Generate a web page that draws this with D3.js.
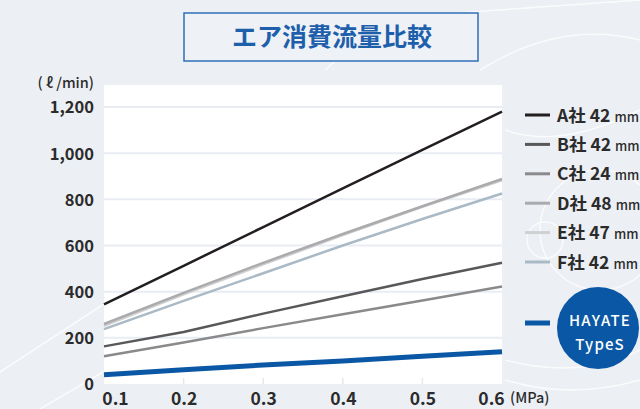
<!DOCTYPE html>
<html>
<head>
<meta charset="utf-8">
<script src="https://cdn.jsdelivr.net/npm/d3@7"></script>
<style>
  body { margin: 0; background: #eceff4; }
  svg { display: block; }
  text { font-family: "Noto Sans CJK JP", "Noto Sans", sans-serif; }
</style>
</head>
<body>
<div id="chart"></div>
<script>
// pressure (MPa) on the x axis
var pressures = [0.1, 0.2, 0.3, 0.4, 0.5, 0.6];

// air consumption (l/min)
var seriesA = [345, 512, 680, 847, 1014, 1180];
var seriesB = [163, 225, 305, 380, 455, 525];
var seriesC = [120, 180, 242, 302, 362, 422];
var seriesD = [260, 395, 525, 650, 770, 888];
var seriesE = [252, 388, 518, 645, 768, 882];
var seriesF = [238, 360, 480, 600, 715, 825];
var seriesHayate = [40, 62, 82, 100, 120, 140];

var legendNames = ["A社", "B社", "C社", "D社", "E社", "F社"];
var legendSizes = ["42", "42", "24", "48", "47", "42"];
var lineColors = ["#231f20", "#58585a", "#8a8a8c", "#ababad", "#cfd0d2", "#a9bac6"];

var yTicks = [0, 200, 400, 600, 800, 1000, 1200];
var xTicks = [0.1, 0.2, 0.3, 0.4, 0.5, 0.6];

var width = 640, height = 409;

var svg = d3.select('#chart').append('svg')
    .attr('width', width)
    .attr('height', height);

// faint decoration in the background
var deco = svg.append('g').attr('fill', 'none').attr('stroke', '#ffffff').attr('stroke-width', 1.5).attr('opacity', 0.8);
deco.append('path').attr('d', 'M0,372 L110,300');
deco.append('path').attr('d', 'M40,409 L110,368');
deco.append('path').attr('d', 'M325,70 L385,18 L640,0');
deco.append('path').attr('d', 'M480,70 Q560,20 640,40');
deco.append('circle').attr('cx', 600).attr('cy', 230).attr('r', 60);
deco.append('circle').attr('cx', 545).attr('cy', 240).attr('r', 18);
deco.append('path').attr('d', 'M505,130 Q560,150 640,110');
deco.append('path').attr('d', 'M505,380 Q570,400 640,380');
deco.append('path').attr('d', 'M505,360 Q580,380 640,350');

// title
svg.append('rect')
    .attr('x', 184).attr('y', 13).attr('width', 294).attr('height', 48)
    .attr('fill', '#eef1f6').attr('stroke', '#2f6fb6').attr('stroke-width', 1.5);
svg.append('text')
    .attr('x', 332).attr('y', 46)
    .attr('text-anchor', 'middle')
    .attr('font-size', 25).attr('font-weight', 700)
    .attr('fill', '#1d5fab')
    .text('エア消費流量比較');

var x = d3.scaleLinear().domain([0.1, 0.6]).range([104, 502]);
var y = d3.scaleLinear().domain([0, 1200]).range([384, 107]);

// plot background
svg.append('rect')
    .attr('x', x(0.1)).attr('y', 85)
    .attr('width', x(0.6) - x(0.1)).attr('height', y(0) - 85)
    .attr('fill', '#ffffff');

// grid
svg.append('g').selectAll('line')
    .data(yTicks.filter(function(d) { return d > 0; }))
    .enter().append('line')
    .attr('x1', x(0.1)).attr('x2', x(0.6))
    .attr('y1', function(d) { return y(d); })
    .attr('y2', function(d) { return y(d); })
    .attr('stroke', '#e9edf3').attr('stroke-width', 2);

// small ticks at the bottom
svg.append('g').selectAll('line')
    .data(xTicks.slice(1, 5))
    .enter().append('line')
    .attr('x1', function(d) { return x(d); })
    .attr('x2', function(d) { return x(d); })
    .attr('y1', y(0) - 6).attr('y2', y(0))
    .attr('stroke', '#e3e7ee').attr('stroke-width', 1.5);

// y axis
var yAxis = d3.axisLeft(y).tickValues(yTicks).tickSize(0).tickPadding(0)
    .tickFormat(d3.format(','));
var yg = svg.append('g').attr('transform', 'translate(94,0)').call(yAxis);
yg.select('.domain').remove();
yg.selectAll('text')
    .attr('font-size', 16.5).attr('font-weight', 700).attr('fill', '#2b2b2b')
    .attr('dy', '0.36em');

svg.append('text')
    .attr('x', 94).attr('y', 88)
    .attr('text-anchor', 'end')
    .attr('font-size', 14.5).attr('font-weight', 500).attr('fill', '#2b2b2b')
    .text('( ℓ /min)');

// x axis
var xAxis = d3.axisBottom(x).tickValues(xTicks).tickSize(0).tickPadding(0)
    .tickFormat(d3.format('.1f'));
var xg = svg.append('g').attr('transform', 'translate(0,' + 405 + ')').call(xAxis);
xg.select('.domain').remove();
xg.selectAll('text')
    .attr('font-size', 17.5).attr('font-weight', 700).attr('fill', '#2b2b2b')
    .attr('dy', 0)
    .attr('dx', function(d) { return d === 0.1 ? 11 : (d === 0.6 ? -11 : 0); });

svg.append('text')
    .attr('x', 510).attr('y', 403)
    .attr('font-size', 14.5).attr('font-weight', 500).attr('fill', '#2b2b2b')
    .text('(MPa)');

// lines
var line = d3.line()
    .x(function(d, i) { return x(pressures[i]); })
    .y(function(d) { return y(d); });

var grays = [seriesA, seriesB, seriesC, seriesD, seriesE, seriesF];
var drawOrder = [5, 4, 3, 2, 1, 0];
drawOrder.forEach(function(k) {
    svg.append('path')
        .attr('d', line(grays[k]))
        .attr('fill', 'none')
        .attr('stroke', lineColors[k])
        .attr('stroke-width', 2.5);
});

svg.append('path')
    .attr('d', line(seriesHayate))
    .attr('fill', 'none')
    .attr('stroke', '#0a58a5')
    .attr('stroke-width', 5);

// legend
var legend = svg.append('g');
legendNames.forEach(function(name, i) {
    var ly = 115 + i * 29.4;
    legend.append('line')
        .attr('x1', 525).attr('x2', 550)
        .attr('y1', ly).attr('y2', ly)
        .attr('stroke', lineColors[i]).attr('stroke-width', 3);
    var t = legend.append('text')
        .attr('x', 557).attr('y', ly + 6.5)
        .attr('font-size', 17.5).attr('font-weight', 700).attr('fill', '#2b2b2b');
    t.append('tspan').text(name);
    t.append('tspan').attr('dx', 4).text(legendSizes[i]);
    t.append('tspan').attr('font-size', 13).attr('font-weight', 500).attr('dx', 4).text('mm');
});

legend.append('line')
    .attr('x1', 525).attr('x2', 550)
    .attr('y1', 323).attr('y2', 323)
    .attr('stroke', '#0a58a5').attr('stroke-width', 5);
legend.append('circle')
    .attr('cx', 598).attr('cy', 328).attr('r', 41)
    .attr('fill', '#0a58a5');
legend.append('text')
    .attr('x', 600).attr('y', 326)
    .attr('text-anchor', 'middle')
    .attr('font-size', 15).attr('font-weight', 500).attr('letter-spacing', 1.2)
    .attr('fill', '#ffffff')
    .text('HAYATE');
legend.append('text')
    .attr('x', 600).attr('y', 350)
    .attr('text-anchor', 'middle')
    .attr('font-size', 15).attr('font-weight', 500).attr('letter-spacing', 1.2)
    .attr('fill', '#ffffff')
    .text('TypeS');
</script>
</body>
</html>
